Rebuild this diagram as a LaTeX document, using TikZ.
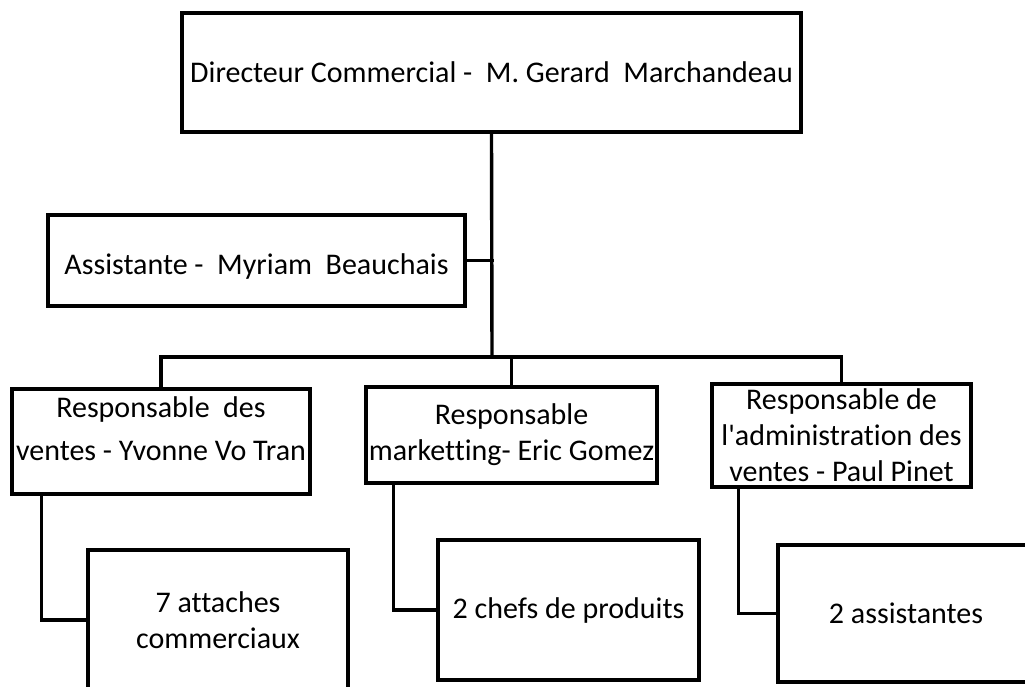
\documentclass[tikz,border=0pt]{standalone}
\usepackage{fontspec}
\newfontfamily\orgfont{Carlito}[Ligatures=NoCommon]
\usepackage{tikz}
\usetikzlibrary{calc,positioning}
\tikzstyle{link} = [line width=3.4pt,line cap=rect]
\tikzstyle{orgbox} = [rectangle, inner sep=0pt, text centered, draw=black, line width=3.4pt, font=\orgfont\fontsize{30}{36}\selectfont]

\begin{document}
\begin{tikzpicture}[x=1pt,y=-1pt]
    \useasboundingbox (0,0) rectangle (1025,687);
    \clip (0,0) rectangle (1025,687);
   	\node[orgbox,minimum width=619pt,minimum height=119pt](dir) at (491.5,72.5){Directeur Commercial -\ \ M. Gerard\ \ Marchandeau};
   	\node[orgbox,minimum width=417pt,minimum height=91pt,text height=34pt,text depth=7pt](asst) at (256.5,260.5){Assistante - \ Myriam\ \ Beauchais};
   	\node[orgbox,align=center,minimum width=298pt,minimum height=105pt,text depth=26pt,font=\orgfont\fontsize{30}{43}\selectfont](ventes) at (161,441.5){Responsable\ \ des\\ventes - Yvonne Vo Tran};
   	\node[orgbox,align=center,minimum width=291pt,minimum height=96pt](mkt) at (511.5,435){Responsable\\marketting- Eric Gomez};
   	\node[orgbox,align=center,minimum width=259pt,minimum height=103pt](adm) at (841.5,435.5){Responsable de\\l'administration des\\ventes - Paul Pinet};
   	\node[orgbox,align=center,minimum width=260pt,minimum height=140pt](att) at (218,620){7 attaches\\commerciaux};
   	\node[orgbox,align=center,minimum width=261pt,minimum height=140pt](chefs) at (568.5,610){2 chefs de produits};
   	\node[orgbox,align=center,minimum width=256pt,minimum height=137pt](asstv) at (906,613.5){2 assistantes};
    \coordinate (bus) at (492,357);
    % tree
    \draw[link] (dir.south) -- (bus);
    \draw[link] (asst.east) -- (asst.east -| bus);
    \draw[link] (ventes.north) |- (bus) -| (adm.north);
    \draw[link] (mkt.north) -- (mkt.north |- bus);
    % sub teams
    \draw[link] ([xshift=31pt]ventes.south west) |- (att.west);
    \draw[link] ([xshift=29pt]mkt.south west) |- (chefs.west);
    \draw[link] ([xshift=28pt]adm.south west) |- (asstv.west);
\end{tikzpicture}
\end{document}
